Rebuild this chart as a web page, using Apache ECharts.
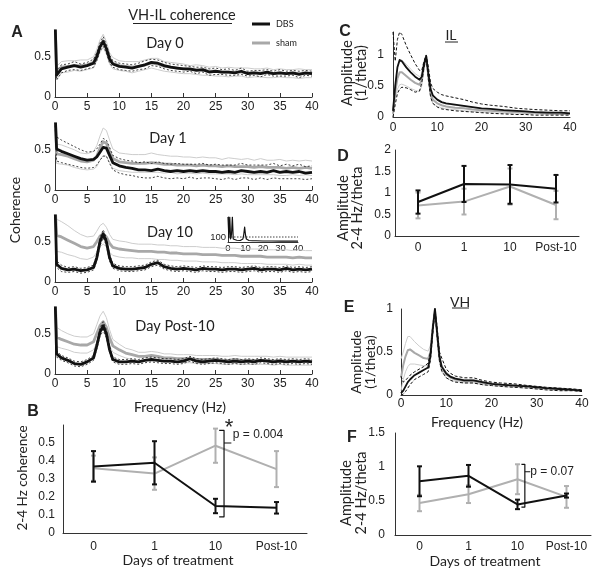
<!DOCTYPE html>
<html><head><meta charset="utf-8">
<script src="https://cdn.jsdelivr.net/npm/echarts@6/dist/echarts.min.js"></script>
<style>html,body{margin:0;padding:0;background:#fff}#c{width:604px;height:577px}</style>
</head><body><div id="c"></div>
<script>
// ---------- Panel A data (VH-IL coherence) ----------
const freqA = [0,0.25,1,2,3,4,5,6,6.5,7,7.5,8,8.5,9,10,11,12,13,14,15,16,17,18,19,20,21,22,23,24,25,26,27,28,29,30,31,32,33,34,35,36,37,38,39,40];
const d0Dbs   = [1.0,0.27,0.35,0.37,0.39,0.37,0.39,0.42,0.50,0.62,0.69,0.60,0.47,0.41,0.38,0.37,0.36,0.38,0.40,0.43,0.42,0.39,0.37,0.36,0.35,0.35,0.33,0.34,0.31,0.32,0.31,0.31,0.30,0.32,0.29,0.30,0.29,0.31,0.29,0.30,0.29,0.30,0.28,0.30,0.29];
const d0DbsSem= [0.05,0.06,0.05,0.04,0.05,0.04,0.04,0.05,0.05,0.05,0.06,0.05,0.05,0.04,0.04,0.04,0.04,0.04,0.05,0.04,0.04,0.04,0.04,0.04,0.04,0.03,0.04,0.03,0.04,0.04,0.03,0.04,0.03,0.04,0.03,0.03,0.04,0.03,0.03,0.04,0.03,0.03,0.04,0.03,0.03];
const d0Sham  = [1.0,0.30,0.37,0.38,0.39,0.39,0.40,0.43,0.52,0.63,0.70,0.61,0.48,0.42,0.39,0.38,0.37,0.38,0.40,0.42,0.41,0.38,0.37,0.36,0.35,0.34,0.34,0.33,0.32,0.32,0.31,0.31,0.31,0.31,0.30,0.30,0.30,0.30,0.29,0.30,0.29,0.29,0.29,0.29,0.29];
const d0ShamSem=[0.08,0.08,0.07,0.07,0.06,0.07,0.06,0.07,0.07,0.08,0.08,0.08,0.07,0.07,0.06,0.06,0.07,0.06,0.06,0.06,0.07,0.06,0.06,0.06,0.06,0.05,0.06,0.06,0.05,0.06,0.05,0.06,0.05,0.05,0.06,0.05,0.05,0.06,0.05,0.05,0.05,0.05,0.06,0.05,0.05];

const d1Dbs   = [1.0,0.51,0.48,0.45,0.42,0.39,0.37,0.38,0.41,0.47,0.53,0.52,0.43,0.34,0.30,0.28,0.27,0.25,0.25,0.24,0.26,0.24,0.23,0.24,0.23,0.24,0.23,0.24,0.23,0.23,0.22,0.23,0.22,0.24,0.23,0.22,0.23,0.22,0.24,0.22,0.23,0.22,0.23,0.21,0.22];
const d1DbsSem= [0.15,0.15,0.14,0.13,0.12,0.11,0.10,0.10,0.10,0.10,0.11,0.10,0.10,0.09,0.09,0.09,0.09,0.09,0.10,0.09,0.09,0.09,0.09,0.09,0.09,0.08,0.09,0.09,0.08,0.09,0.09,0.08,0.09,0.09,0.08,0.09,0.08,0.09,0.09,0.08,0.09,0.08,0.09,0.08,0.08];
const d1Sham  = [1.0,0.45,0.44,0.42,0.39,0.36,0.35,0.37,0.42,0.52,0.60,0.58,0.48,0.39,0.35,0.34,0.33,0.33,0.33,0.34,0.33,0.32,0.32,0.31,0.31,0.31,0.30,0.31,0.30,0.30,0.29,0.30,0.29,0.29,0.29,0.28,0.29,0.28,0.28,0.28,0.27,0.28,0.27,0.28,0.27];
const d1ShamSem=[0.12,0.12,0.12,0.11,0.11,0.10,0.10,0.11,0.13,0.15,0.17,0.16,0.14,0.12,0.11,0.11,0.11,0.11,0.11,0.12,0.11,0.11,0.10,0.11,0.10,0.10,0.10,0.10,0.10,0.10,0.09,0.10,0.10,0.09,0.10,0.09,0.10,0.09,0.09,0.10,0.09,0.09,0.09,0.09,0.09];

const d10Dbs  = [1.0,0.22,0.17,0.15,0.16,0.14,0.15,0.18,0.30,0.50,0.60,0.50,0.30,0.20,0.17,0.16,0.16,0.17,0.18,0.22,0.24,0.19,0.17,0.16,0.17,0.16,0.15,0.17,0.16,0.16,0.15,0.16,0.16,0.15,0.16,0.17,0.15,0.16,0.16,0.15,0.17,0.15,0.16,0.15,0.16];
const d10DbsSem=[0.04,0.04,0.04,0.03,0.03,0.03,0.03,0.03,0.04,0.05,0.05,0.05,0.04,0.03,0.03,0.03,0.03,0.03,0.03,0.03,0.03,0.03,0.03,0.03,0.03,0.03,0.03,0.03,0.03,0.03,0.03,0.03,0.03,0.03,0.03,0.03,0.03,0.03,0.03,0.03,0.03,0.03,0.03,0.03,0.03];
const d10Sham = [1.0,0.58,0.56,0.52,0.48,0.44,0.42,0.44,0.50,0.57,0.60,0.56,0.48,0.43,0.41,0.40,0.39,0.38,0.38,0.38,0.37,0.37,0.36,0.36,0.35,0.35,0.35,0.34,0.34,0.34,0.33,0.33,0.33,0.32,0.32,0.32,0.32,0.31,0.31,0.31,0.31,0.30,0.31,0.30,0.30];
const d10ShamSem=[0.20,0.20,0.19,0.18,0.16,0.15,0.14,0.13,0.13,0.13,0.13,0.12,0.11,0.10,0.10,0.10,0.09,0.09,0.09,0.09,0.09,0.09,0.09,0.09,0.09,0.09,0.09,0.09,0.09,0.09,0.09,0.09,0.09,0.09,0.09,0.09,0.09,0.09,0.09,0.09,0.09,0.09,0.09,0.09,0.09];

const d30Dbs  = [1.0,0.25,0.20,0.17,0.13,0.12,0.15,0.20,0.35,0.52,0.60,0.50,0.30,0.18,0.15,0.15,0.16,0.15,0.17,0.18,0.17,0.16,0.16,0.15,0.16,0.19,0.16,0.15,0.16,0.17,0.16,0.15,0.16,0.15,0.16,0.15,0.17,0.16,0.15,0.16,0.15,0.16,0.15,0.16,0.15];
const d30DbsSem=[0.04,0.04,0.03,0.03,0.03,0.03,0.03,0.03,0.04,0.05,0.05,0.05,0.04,0.03,0.03,0.03,0.03,0.03,0.03,0.03,0.03,0.03,0.03,0.03,0.03,0.03,0.03,0.03,0.03,0.03,0.03,0.03,0.03,0.03,0.03,0.03,0.03,0.03,0.03,0.03,0.03,0.03,0.03,0.03,0.03];
const d30Sham = [1.0,0.46,0.43,0.40,0.37,0.36,0.36,0.40,0.50,0.60,0.65,0.58,0.45,0.35,0.30,0.26,0.24,0.22,0.22,0.23,0.22,0.20,0.20,0.19,0.19,0.19,0.18,0.18,0.18,0.18,0.17,0.17,0.18,0.17,0.17,0.17,0.17,0.17,0.16,0.17,0.16,0.16,0.16,0.16,0.16];
const d30ShamSem=[0.12,0.12,0.11,0.10,0.10,0.10,0.10,0.10,0.11,0.12,0.13,0.12,0.10,0.08,0.07,0.06,0.06,0.05,0.05,0.05,0.05,0.05,0.05,0.05,0.05,0.05,0.05,0.05,0.05,0.05,0.05,0.05,0.05,0.05,0.05,0.05,0.05,0.05,0.05,0.05,0.05,0.05,0.05,0.05,0.05];

// inset (Day 10)
const insetFreq = [0,0.5,1,1.5,2,2.5,3,4,5,6,7,8,8.5,9,9.5,10,10.5,11,12,14,16,20,25,30,35,40];
const insetVal  = [500,80,500,60,150,500,60,40,35,30,30,35,60,150,300,140,60,40,30,25,25,20,20,18,18,18];
const insetThreshold = 100;

// ---------- Panel B ----------
const days = ['0','1','10','Post-10'];
const bDbs = [0.37,0.39,0.15,0.14];
const bDbsErr = [0.085,0.12,0.04,0.032];
const bSham = [0.36,0.33,0.485,0.355];
const bShamErr = [0.07,0.09,0.095,0.10];
const bBracketX = [2.06,2.14,2.14,2.06];
const bBracketY = [0.57,0.57,0.09,0.09];
const bPtrX = [2.14,2.26];
const bPtrY = [0.50,0.50];

// ---------- Panel C (IL) ----------
const freqCE = [0,0.5,1,1.5,2,3,4,5,6,6.5,7,7.5,8,8.5,9,10,11,12,14,16,18,20,22,25,28,30,32,35,38,40];
const cDbs    = [0.10,0.50,0.80,0.92,0.90,0.80,0.72,0.65,0.60,0.65,0.85,0.98,0.70,0.45,0.35,0.28,0.24,0.22,0.20,0.18,0.16,0.14,0.13,0.11,0.10,0.09,0.08,0.07,0.07,0.06];
const cDbsUp  = [1.37,0.90,1.25,1.37,1.33,1.15,1.00,0.86,0.75,0.75,0.90,1.00,0.80,0.55,0.46,0.40,0.36,0.34,0.31,0.28,0.24,0.21,0.19,0.17,0.14,0.13,0.12,0.11,0.10,0.10];
const cDbsLo  = [0.00,0.20,0.38,0.45,0.48,0.47,0.44,0.40,0.42,0.55,0.80,0.95,0.60,0.32,0.22,0.16,0.13,0.12,0.10,0.09,0.08,0.07,0.06,0.05,0.04,0.04,0.03,0.03,0.03,0.03];
const cSham   = [0.05,0.40,0.62,0.72,0.72,0.66,0.60,0.55,0.52,0.60,0.82,0.98,0.65,0.38,0.28,0.22,0.19,0.17,0.15,0.14,0.12,0.11,0.10,0.09,0.08,0.07,0.07,0.06,0.05,0.05];
const cShamUp = [0.10,0.50,0.80,0.92,0.92,0.85,0.77,0.70,0.65,0.70,0.88,1.00,0.70,0.45,0.34,0.27,0.23,0.21,0.19,0.17,0.15,0.14,0.13,0.11,0.10,0.09,0.09,0.08,0.07,0.07];
const cShamLo = [0.00,0.30,0.45,0.52,0.53,0.50,0.46,0.43,0.41,0.50,0.76,0.95,0.60,0.32,0.22,0.17,0.15,0.13,0.12,0.10,0.09,0.08,0.07,0.06,0.05,0.05,0.05,0.04,0.04,0.04];

// ---------- Panel D ----------
const dDbs = [0.79,1.21,1.20,1.10];
const dDbsErr = [0.27,0.42,0.45,0.32];
const dSham = [0.71,0.80,1.15,0.72];
const dShamErr = [0.30,0.30,0.42,0.33];

// ---------- Panel E (VH) ----------
const eDbs    = [0.02,0.05,0.10,0.15,0.18,0.23,0.26,0.29,0.32,0.45,0.75,1.00,0.72,0.45,0.33,0.25,0.21,0.19,0.17,0.17,0.15,0.13,0.12,0.11,0.10,0.09,0.08,0.07,0.06,0.05];
const eDbsUp  = [0.22,0.15,0.17,0.20,0.23,0.27,0.30,0.33,0.37,0.50,0.80,1.00,0.78,0.50,0.43,0.30,0.25,0.22,0.20,0.20,0.17,0.15,0.14,0.13,0.11,0.10,0.09,0.08,0.07,0.06];
const eDbsLo  = [0.00,0.01,0.04,0.08,0.12,0.18,0.21,0.24,0.27,0.40,0.70,0.97,0.66,0.40,0.28,0.20,0.17,0.15,0.14,0.14,0.12,0.11,0.10,0.09,0.08,0.07,0.06,0.05,0.05,0.04];
const eSham   = [0.20,0.35,0.45,0.52,0.53,0.49,0.46,0.43,0.42,0.50,0.78,1.00,0.70,0.42,0.31,0.24,0.20,0.18,0.16,0.16,0.14,0.13,0.12,0.11,0.10,0.09,0.08,0.07,0.06,0.05];
const eShamUp = [0.42,0.50,0.60,0.68,0.68,0.62,0.57,0.53,0.51,0.58,0.82,1.00,0.74,0.46,0.35,0.27,0.22,0.20,0.18,0.18,0.16,0.14,0.13,0.12,0.11,0.10,0.09,0.08,0.07,0.06];
const eShamLo = [0.05,0.18,0.27,0.33,0.36,0.36,0.35,0.34,0.34,0.43,0.74,0.98,0.66,0.38,0.27,0.20,0.17,0.16,0.14,0.14,0.12,0.11,0.10,0.09,0.08,0.07,0.06,0.05,0.05,0.04];

// ---------- Panel F ----------
const fDbs = [0.79,0.87,0.45,0.58];
const fDbsErr = [0.22,0.16,0.07,0.03];
const fSham = [0.47,0.60,0.82,0.56];
const fShamErr = [0.12,0.13,0.22,0.16];
const fBracketX = [2.08,2.15,2.15,2.08];
const fBracketY = [1.04,1.04,0.41,0.41];
const fPtrX = [2.15,2.26];
const fPtrY = [0.93,0.93];

// ---------- styling ----------
const BLACK = '#111', GRAY = '#a8a8a8', LGRAY = '#cdcdcd', AX = '#333';
const NUMF = '"Liberation Sans", Arial, sans-serif';
const TXTF = 'Lato, "Open Sans", sans-serif';

const chart = echarts.init(document.getElementById('c'), null, {renderer:'canvas'});

const grids = [
  {left:55, top:31, width:257, height:66},   // A day0
  {left:55, top:124, width:257, height:66},  // A day1
  {left:55, top:216, width:257, height:66},  // A day10
  {left:55, top:308, width:257, height:66},  // A post10
  {left:228, top:217, width:70, height:25},  // inset
  {left:63, top:425, width:244, height:108}, // B
  {left:393, top:32, width:177, height:85},  // C
  {left:395, top:150, width:184, height:86}, // D
  {left:401, top:309, width:181, height:86}, // E
  {left:395, top:433, width:196, height:102} // F
];

const axLine = {show:true, onZero:false, lineStyle:{color:AX, width:1}};
const lab = (m, extra) => Object.assign({color:'#222', fontFamily:NUMF, fontSize:12, margin:m}, extra||{});
const catFmt = v => { const i = Math.round(v); return (Math.abs(v-i) < 1e-6 && i >= 0 && i < days.length) ? days[i] : ''; };
const halfFmt = v => (Math.abs(v*2 - Math.round(v*2)) < 1e-6 ? String(+v.toFixed(2)) : '');

const xAxes = [], yAxes = [];
for (let g = 0; g < 4; g++) {
  xAxes.push({gridIndex:g, type:'value', min:0, max:40, interval:5, axisLine:axLine,
    axisTick:{show:true, inside:true, length:4, lineStyle:{color:AX}}, splitLine:{show:false}, axisLabel:lab(4)});
  yAxes.push({gridIndex:g, type:'value', min:0, max:0.82, interval:0.5, axisLine:axLine,
    axisTick:{show:false}, splitLine:{show:false}, axisLabel:lab(4, {formatter:halfFmt})});
}
// inset
xAxes.push({gridIndex:4, type:'value', min:0, max:40, interval:10, axisLine:axLine, axisTick:{show:false},
  splitLine:{show:false}, axisLabel:lab(1, {fontSize:9.5})});
yAxes.push({gridIndex:4, type:'value', min:0, max:500, interval:100, axisLine:axLine, axisTick:{show:false},
  splitLine:{show:false}, axisLabel:lab(2, {fontSize:9.5, formatter: v => v === 100 ? '100' : ''})});
// B
xAxes.push({gridIndex:5, type:'value', min:-0.5, max:3.5, interval:0.5, axisLine:axLine, axisTick:{show:false},
  splitLine:{show:false}, axisLabel:lab(8, {formatter:catFmt})});
yAxes.push({gridIndex:5, type:'value', min:0, max:0.6, interval:0.1, axisLine:axLine, axisTick:{show:false},
  splitLine:{show:false}, axisLabel:lab(8, {showMaxLabel:false})});
// C
xAxes.push({gridIndex:6, type:'value', min:0, max:40, interval:10, axisLine:axLine, axisTick:{show:false},
  splitLine:{show:false}, axisLabel:lab(5)});
yAxes.push({gridIndex:6, type:'value', min:0, max:1.37, interval:0.5, axisLine:axLine, axisTick:{show:false},
  splitLine:{show:false}, axisLabel:lab(9, {formatter:halfFmt})});
// D
xAxes.push({gridIndex:7, type:'value', min:-0.5, max:3.5, interval:0.5, axisLine:axLine, axisTick:{show:false},
  splitLine:{show:false}, axisLabel:lab(6, {formatter:catFmt})});
yAxes.push({gridIndex:7, type:'value', min:0, max:2, interval:0.5, axisLine:axLine, axisTick:{show:false},
  splitLine:{show:false}, axisLabel:lab(4)});
// E
xAxes.push({gridIndex:8, type:'value', min:0, max:40, interval:10, axisLine:axLine, axisTick:{show:false},
  splitLine:{show:false}, axisLabel:lab(3)});
yAxes.push({gridIndex:8, type:'value', min:0, max:1, interval:0.5, axisLine:axLine, axisTick:{show:false},
  splitLine:{show:false}, axisLabel:lab(8)});
// F
xAxes.push({gridIndex:9, type:'value', min:-0.5, max:3.5, interval:0.5, axisLine:axLine, axisTick:{show:false},
  splitLine:{show:false}, axisLabel:lab(6, {formatter:catFmt})});
yAxes.push({gridIndex:9, type:'value', min:0, max:1.5, interval:0.5, axisLine:axLine, axisTick:{show:false},
  splitLine:{show:false}, axisLabel:lab(10)});

const series = [];
function line(g, xs, ys, color, width, dash, z) {
  series.push({type:'line', xAxisIndex:g, yAxisIndex:g, data: xs.map((x,i)=>[x, ys[i]]),
    symbol:'none', showSymbol:false, silent:true, animation:false, z: z||2, clip:true,
    lineStyle:{color, width, type: dash || 'solid', cap:'butt', join:'round'}});
}
function band(g, xs, m, s, color, width, dash, z) {
  line(g, xs, m.map((v,i)=>v + s[i]), color, width, dash, z);
  line(g, xs, m.map((v,i)=>v - s[i]), color, width, dash, z);
}
function errbars(g, m, e, color, z) {
  series.push({type:'custom', xAxisIndex:g, yAxisIndex:g, silent:true, animation:false, z: z||3,
    data: m.map((v,i)=>[i, v, e[i]]),
    renderItem: (p, api) => {
      const x = api.value(0), y = api.value(1), er = api.value(2);
      const t = api.coord([x, y + er]), b = api.coord([x, y - er]);
      const w = 2.5, st = {stroke:color, lineWidth:2};
      return {type:'group', children:[
        {type:'line', shape:{x1:t[0], y1:t[1], x2:b[0], y2:b[1]}, style:st},
        {type:'line', shape:{x1:t[0]-w, y1:t[1], x2:t[0]+w, y2:t[1]}, style:st},
        {type:'line', shape:{x1:b[0]-w, y1:b[1], x2:b[0]+w, y2:b[1]}, style:st}
      ]};
    }});
}

// Panel A
const daySets = [
  [d0Dbs, d0DbsSem, d0Sham, d0ShamSem],
  [d1Dbs, d1DbsSem, d1Sham, d1ShamSem],
  [d10Dbs, d10DbsSem, d10Sham, d10ShamSem],
  [d30Dbs, d30DbsSem, d30Sham, d30ShamSem]
];
daySets.forEach((s, g) => {
  band(g, freqA, s[2], s[3], LGRAY, 1, 'solid', 2);
  line(g, freqA, s[2], GRAY, 2.8, 'solid', 3);
  band(g, freqA, s[0], s[1], BLACK, 0.8, [2,2], 4);
  line(g, freqA, s[0], BLACK, 2.8, 'solid', 5);
});
// inset
line(4, insetFreq, insetVal, BLACK, 1.2, 'solid', 3);
line(4, [0, 40], [insetThreshold, insetThreshold], BLACK, 0.8, [1.5,1.5], 4);

// Panel B
line(5, [0,1,2,3], bSham, '#b0b0b0', 2, 'solid', 2);
errbars(5, bSham, bShamErr, '#b0b0b0', 2);
line(5, [0,1,2,3], bDbs, BLACK, 2, 'solid', 4);
errbars(5, bDbs, bDbsErr, BLACK, 4);
line(5, bBracketX, bBracketY, BLACK, 1.2, 'solid', 5);
line(5, bPtrX, bPtrY, BLACK, 1.2, 'solid', 5);

// Panel C
line(6, freqCE, cShamUp, LGRAY, 1, 'solid', 2);
line(6, freqCE, cShamLo, LGRAY, 1, 'solid', 2);
line(6, freqCE, cSham, GRAY, 2, 'solid', 3);
line(6, freqCE, cDbsUp, BLACK, 1, [3,2], 4);
line(6, freqCE, cDbsLo, BLACK, 1, [3,2], 4);
line(6, freqCE, cDbs, BLACK, 1.8, 'solid', 5);

// Panel D
line(7, [0,1,2,3], dSham, '#b0b0b0', 2, 'solid', 2);
errbars(7, dSham, dShamErr, '#b0b0b0', 2);
line(7, [0,1,2,3], dDbs, BLACK, 2, 'solid', 4);
errbars(7, dDbs, dDbsErr, BLACK, 4);

// Panel E
line(8, freqCE, eShamUp, LGRAY, 1, 'solid', 2);
line(8, freqCE, eShamLo, LGRAY, 1, 'solid', 2);
line(8, freqCE, eSham, GRAY, 2, 'solid', 3);
line(8, freqCE, eDbsUp, BLACK, 1, [3,2], 4);
line(8, freqCE, eDbsLo, BLACK, 1, [3,2], 4);
line(8, freqCE, eDbs, BLACK, 1.8, 'solid', 5);

// Panel F
line(9, [0,1,2,3], fSham, '#b0b0b0', 2, 'solid', 2);
errbars(9, fSham, fShamErr, '#b0b0b0', 2);
line(9, [0,1,2,3], fDbs, BLACK, 2, 'solid', 4);
errbars(9, fDbs, fDbsErr, BLACK, 4);
line(9, fBracketX, fBracketY, BLACK, 1.2, 'solid', 5);
line(9, fPtrX, fPtrY, BLACK, 1.2, 'solid', 5);

// ---------- text ----------
function T(x, y, text, size, opt) {
  opt = opt || {};
  return {type:'text', x, y, rotation: opt.rot || 0, silent:true, z:10,
    style:{text, fontSize:size, fontFamily: opt.font || TXTF, fontWeight: opt.bold ? 'bold' : 'normal',
      fill: opt.fill || '#222', align: opt.align || 'center', verticalAlign:'middle'}};
}
function L(x1, y1, x2, y2, color, w) {
  return {type:'line', silent:true, z:10, shape:{x1, y1, x2, y2}, style:{stroke:color, lineWidth:w}};
}
const R = Math.PI / 2;
const graphic = [
  T(17, 33, 'A', 16, {font:NUMF, bold:true}),
  T(182, 15, 'VH-IL coherence', 14.5),
  L(133, 23.5, 232, 23.5, '#222', 1),
  L(252, 24, 270, 24, BLACK, 3),
  T(276, 24, 'DBS', 9, {align:'left'}),
  L(252, 43, 270, 43, GRAY, 3),
  T(276, 43, 'sham', 9, {align:'left'}),
  T(165, 43, 'Day 0', 14.5),
  T(168, 138, 'Day 1', 14.5),
  T(170, 232, 'Day 10', 14.5),
  T(175, 326, 'Day Post-10', 14.5),
  T(15, 210, 'Coherence', 14, {rot:R}),
  T(180, 407, 'Frequency (Hz)', 14),
  T(33, 412, 'B', 16, {font:NUMF, bold:true}),
  T(23, 478, '2-4 Hz coherence', 13.5, {rot:R}),
  T(178, 560, 'Days of treatment', 14),
  T(229, 428, '*', 22, {font:NUMF}),
  T(258, 435, 'p = 0.004', 12, {font:NUMF}),
  T(345, 32, 'C', 16, {font:NUMF, bold:true}),
  T(451, 35, 'IL', 14),
  L(445, 42, 458, 42, '#222', 1),
  T(347, 73, 'Amplitude', 14.5, {rot:R}),
  T(361, 73, '(1/theta)', 14.5, {rot:R}),
  T(343, 157, 'D', 16, {font:NUMF, bold:true}),
  T(343, 208, 'Amplitude', 14.5, {rot:R}),
  T(357, 208, '2-4 Hz/theta', 14.5, {rot:R}),
  T(349, 308, 'E', 16, {font:NUMF, bold:true}),
  T(460, 302, 'VH', 14),
  L(452, 308, 469, 308, '#222', 1),
  T(356, 362, 'Amplitude', 14, {rot:R}),
  T(370, 362, '(1/theta)', 14, {rot:R}),
  T(477, 422, 'Frequency (Hz)', 14),
  T(352, 438, 'F', 16, {font:NUMF, bold:true}),
  T(346, 493, 'Amplitude', 14.5, {rot:R}),
  T(361, 493, '2-4 Hz/theta', 14.5, {rot:R}),
  T(485, 561, 'Days of treatment', 14),
  T(552, 472, 'p = 0.07', 12, {font:NUMF})
];

chart.setOption({animation:false, backgroundColor:'#fff', grid:grids, xAxis:xAxes, yAxis:yAxes, series, graphic});
</script>
</body></html>
